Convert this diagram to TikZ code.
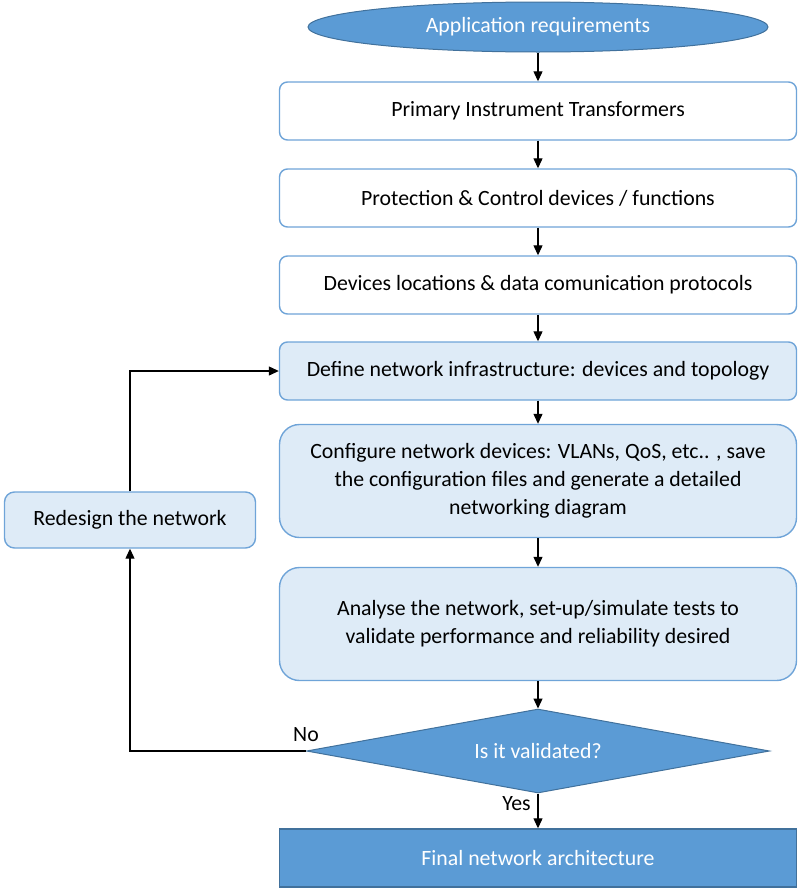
\documentclass[tikz,border=0pt]{standalone}
\usepackage{fontspec}
\setmainfont{Carlito}
\usetikzlibrary{positioning,arrows.meta,shapes.geometric}
\definecolor{AccentBlue}{HTML}{5B9BD5}
\definecolor{DeepBlue}{HTML}{41719C}
\definecolor{PaleBlue}{HTML}{DEEBF7}
\definecolor{EdgeBlue}{HTML}{6FA4D8}

\begin{document}
\begin{tikzpicture}[
    x=0.5pt, y=-0.5pt,
    font=\fontsize{10.9}{14}\selectfont,
    stage/.style={
      rectangle, rounded corners=4pt,
      draw=EdgeBlue, line width=0.7pt,
      fill=white, text=black,
      minimum width=258.5pt, minimum height=29pt,
      align=center, inner sep=2pt
    },
    netstage/.style={stage, fill=PaleBlue},
    tallstage/.style={netstage, rounded corners=10pt, minimum height=56.5pt},
    flow/.style={-{Triangle[length=5pt,width=4.5pt]}, line width=0.6pt, black}
  ]
  \useasboundingbox (0,0) rectangle (798,889);

  \node[ellipse, fill=AccentBlue, draw=DeepBlue, line width=0.5pt, text=white,
        minimum width=230pt, minimum height=25pt, inner sep=0pt]
        (req) at (538,27) {Application requirements};
  \node[stage] (pit) at (538,111) {Primary Instrument Transformers};
  \node[stage] (pcd) at (538,198) {Protection \& Control devices / functions};
  \node[stage] (dlp) at (538,285) {Devices locations \& data comunication protocols};
  \node[netstage] (dni) at (538,371) {Define network infrastructure: devices and topology};
  \node[tallstage] (cnd) at (538,481) {Configure network devices: VLANs, QoS, etc.. , save\\
        the configuration files and generate a detailed\\ networking diagram};
  \node[tallstage] (atn) at (538,624) {Analyse the network, set-up/simulate tests to\\
        validate performance and reliability desired};
  \node[diamond, aspect=5.5, fill=AccentBlue, draw=DeepBlue, line width=0.5pt,
        text=white, minimum width=231.5pt, minimum height=42pt, inner sep=0pt]
        (val) at (538,751) {Is it validated?};
  \node[rectangle, fill=AccentBlue, draw=DeepBlue, line width=0.7pt, text=white,
        minimum width=258.5pt, minimum height=29pt]
        (fin) at (538,858) {Final network architecture};
  \node[netstage, rounded corners=5pt, minimum width=125.5pt, minimum height=28pt]
        (red) at (130,520) {Redesign the network};

  % main chain
  \draw[flow] (req) -- (pit);
  \draw[flow] (pit) -- (pcd);
  \draw[flow] (pcd) -- (dlp);
  \draw[flow] (dlp) -- (dni);
  \draw[flow] (dni) -- (cnd);
  \draw[flow] (cnd) -- (atn);
  \draw[flow] (atn) -- (val);
  \draw[flow] (val.south) -- node[left, pos=0.3] {Yes} (fin.north);

  % loop back
  \draw[flow] (val.west) node[above=1pt] {No} -| (red.south);
  \draw[flow] (red.north) |- (dni.west);
\end{tikzpicture}
\end{document}
